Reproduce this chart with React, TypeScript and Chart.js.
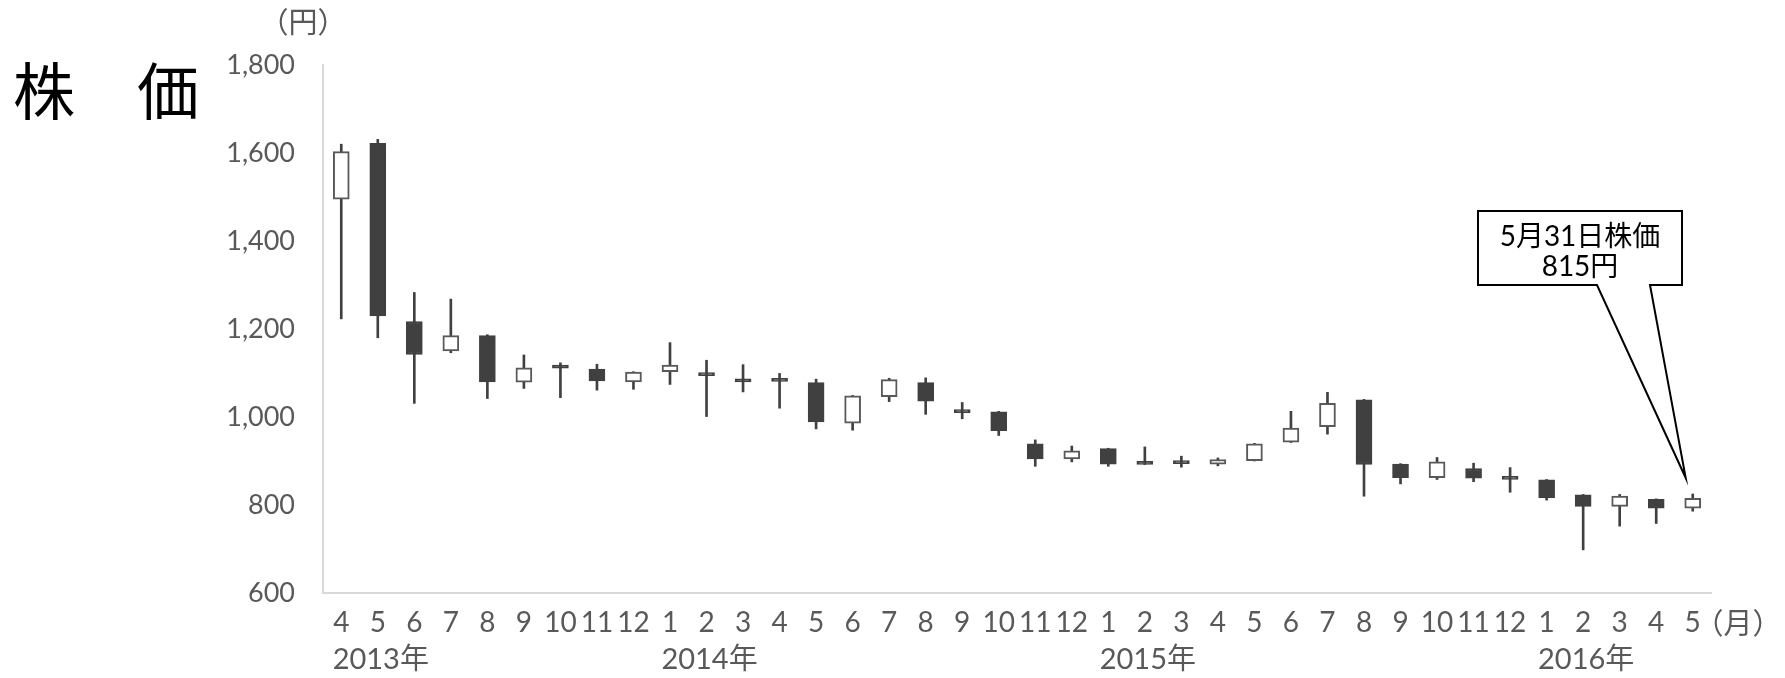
import { useEffect, useRef } from "react";
import { Chart, registerables } from "chart.js";

Chart.register(...registerables);

// ---- data ----
const months = [
  "4", "5", "6", "7", "8", "9", "10", "11", "12",
  "1", "2", "3", "4", "5", "6", "7", "8", "9", "10", "11", "12",
  "1", "2", "3", "4", "5", "6", "7", "8", "9", "10", "11", "12",
  "1", "2", "3", "4", "5",
];
const yearNames = ["2013年", "2014年", "2015年", "2016年"];
const yearLabelAt = [1, 10, 22, 34];

const open = [
  1495, 1622, 1217, 1150, 1185, 1079, 1118, 1109, 1080,
  1103, 1101, 1087, 1088, 1078, 986, 1046, 1078, 1017, 1012, 939, 905,
  928, 899, 901, 893, 901, 943, 978, 1039, 893, 862, 883, 865,
  857, 823, 797, 813, 793,
];
const high = [
  1620, 1631, 1283, 1268, 1187, 1141, 1123, 1120, 1103,
  1169, 1129, 1119, 1099, 1086, 1049, 1088, 1089, 1033, 1013, 948, 934,
  929, 932, 911, 907, 940, 1013, 1056, 1040, 894, 908, 895, 885,
  858, 824, 824, 814, 825,
];
const low = [
  1223, 1180, 1031, 1146, 1042, 1065, 1044, 1061, 1063,
  1074, 1001, 1057, 1020, 973, 970, 1035, 1006, 996, 958, 888, 898,
  888, 892, 886, 889, 900, 942, 961, 820, 848, 858, 853, 829,
  811, 698, 752, 758, 786,
];
const close = [
  1603, 1230, 1142, 1185, 1080, 1112, 1111, 1082, 1102,
  1118, 1094, 1080, 1081, 989, 1048, 1085, 1036, 1010, 969, 905, 923,
  893, 892, 894, 903, 939, 975, 1031, 892, 862, 898, 861, 858,
  816, 797, 820, 793, 815,
];

const yMin = 600;
const yMax = 1800;
const yStep = 200;

const titleText = "株　価";
const yUnit = "（円）";
const xUnit = "（月）";
const calloutLines = ["5月31日株価", "815円"];

const FONT = 'Lato, "Noto Sans CJK JP", sans-serif';
const CJK = '"Noto Sans CJK JP", sans-serif';
const GRAY = "#595959";
const DARK = "#404040";

export default function App() {
  const ref = useRef<HTMLCanvasElement | null>(null);

  useEffect(() => {
    if (!ref.current) return;
    const isUp = close.map((c, i) => c >= open[i]);
    const bodies = open.map((o, i) => [Math.min(o, close[i]), Math.max(o, close[i])]);
    const wicks = low.map((l, i) => [l, high[i]]);

    const overlay = {
      id: "overlay",
      afterDraw(chart: any) {
        const ctx = chart.ctx as CanvasRenderingContext2D;
        const xs = chart.scales.x;
        const ys = chart.scales.y;
        const area = chart.chartArea;
        ctx.save();
        // title
        ctx.fillStyle = "#000";
        ctx.font = `62px ${CJK}`;
        ctx.textAlign = "left";
        ctx.textBaseline = "middle";
        ctx.fillText(titleText, 13, 91);
        // units
        ctx.fillStyle = GRAY;
        ctx.font = `29px ${CJK}`;
        ctx.textAlign = "center";
        ctx.fillText(yUnit, 303, 22);
        ctx.fillText(xUnit, area.right + 27, area.bottom + 30);
        // year labels
        ctx.font = `29px ${FONT}`;
        yearLabelAt.forEach((idx, k) => {
          ctx.fillText(yearNames[k], xs.getPixelForValue(idx) + 3, area.bottom + 67);
        });

        // callout
        const last = months.length - 1;
        const tipX = xs.getPixelForValue(last) - 7;
        const tipY = ys.getPixelForValue(high[last]) - 16;
        const L = area.right - 233, R = area.right - 29, T = 211, B = 285;
        ctx.beginPath();
        ctx.moveTo(L, T);
        ctx.lineTo(R, T);
        ctx.lineTo(R, B);
        ctx.lineTo(L + 172, B);
        ctx.lineTo(tipX, tipY);
        ctx.lineTo(L + 119, B);
        ctx.lineTo(L, B);
        ctx.closePath();
        ctx.fillStyle = "#fff";
        ctx.fill();
        ctx.lineWidth = 2;
        ctx.strokeStyle = "#000";
        ctx.lineJoin = "miter";
        ctx.stroke();
        ctx.fillStyle = "#000";
        ctx.font = `28px ${FONT}`;
        ctx.textAlign = "center";
        ctx.textBaseline = "middle";
        const cx = (L + R) / 2;
        ctx.fillText(calloutLines[0], cx, 237);
        ctx.fillText(calloutLines[1], cx, 267);
        ctx.restore();
      },
    };

    const chart = new Chart(ref.current, {
      type: "bar",
      data: {
        labels: months,
        datasets: [
          {
            data: wicks as any,
            backgroundColor: DARK,
            borderWidth: 0,
            barThickness: 2,
            grouped: false,
            order: 2,
          } as any,
          {
            data: bodies as any,
            backgroundColor: isUp.map((u) => (u ? "#ffffff" : DARK)),
            borderColor: isUp.map((u) => (u ? GRAY : DARK)),
            borderWidth: 2,
            borderSkipped: false,
            barThickness: 16,
            grouped: false,
            order: 1,
          } as any,
        ],
      },
      options: {
        responsive: false,
        animation: false,
        devicePixelRatio: 1,
        layout: { padding: { top: 65, right: 74, left: 0, bottom: 0 } },
        plugins: { legend: { display: false }, tooltip: { enabled: false }, title: { display: false } },
        scales: {
          x: {
            grid: { display: true, drawOnChartArea: false, drawTicks: false },
            border: { display: true, color: "#d9d9d9", width: 2 },
            ticks: {
              autoSkip: false,
              maxRotation: 0,
              minRotation: 0,
              padding: 11,
              color: GRAY,
              font: { family: FONT, size: 28, lineHeight: 1.32 },
            },
            afterFit: (s: any) => {
              s.height = 85;
            },
          },
          y: {
            min: yMin,
            max: yMax,
            grid: { display: true, drawOnChartArea: false, drawTicks: false },
            border: { display: true, color: "#d9d9d9", width: 2 },
            ticks: {
              stepSize: yStep,
              padding: 28,
              color: GRAY,
              font: { family: FONT, size: 27 },
              callback: (v: any) => Number(v).toLocaleString("en-US"),
            },
            afterFit: (s: any) => {
              s.width = 323;
            },
          },
        },
      } as any,
      plugins: [overlay],
    });
    return () => chart.destroy();
  }, []);

  return (
    <div style={{ position: "absolute", left: 0, top: 0, width: 1785, height: 678, background: "#fff" }}>
      <canvas ref={ref} width={1785} height={678} style={{ width: 1785, height: 678, display: "block" }} />
    </div>
  );
}
